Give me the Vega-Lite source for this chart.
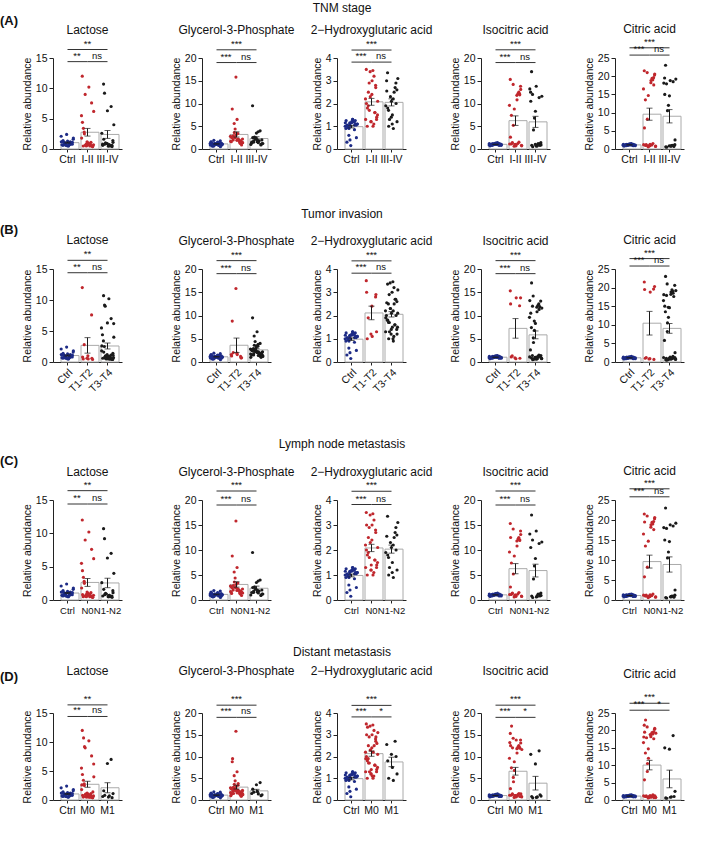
{
"$schema":"https://vega.github.io/schema/vega-lite/v6.json",
"padding":{"left":0,"top":2,"right":2,"bottom":2},
"datasets":{"d":[
{"i":29,"s":"Ctrl","t":"Ctrl","n":"Ctrl","m":"Ctrl","L":0.9,"G":1.2,"H":1.1,"I":1.0,"C":1.1},
{"i":58,"s":"Ctrl","t":"Ctrl","n":"Ctrl","m":"Ctrl","L":1.2,"G":0.9,"H":1.2,"I":1.1,"C":1.2},
{"i":6,"s":"Ctrl","t":"Ctrl","n":"Ctrl","m":"Ctrl","L":0.7,"G":1.5,"H":0.9,"I":0.9,"C":1.0},
{"i":35,"s":"Ctrl","t":"Ctrl","n":"Ctrl","m":"Ctrl","L":2.4,"G":1.0,"H":1.0,"I":1.2,"C":1.3},
{"i":64,"s":"Ctrl","t":"Ctrl","n":"Ctrl","m":"Ctrl","L":1.0,"G":1.8,"H":1.25,"I":0.8,"C":0.9},
{"i":12,"s":"Ctrl","t":"Ctrl","n":"Ctrl","m":"Ctrl","L":0.6,"G":0.7,"H":0.3,"I":1.0,"C":1.1},
{"i":41,"s":"Ctrl","t":"Ctrl","n":"Ctrl","m":"Ctrl","L":1.3,"G":1.1,"H":1.15,"I":1.3,"C":1.4},
{"i":70,"s":"Ctrl","t":"Ctrl","n":"Ctrl","m":"Ctrl","L":0.8,"G":1.3,"H":1.05,"I":0.9,"C":1.0},
{"i":18,"s":"Ctrl","t":"Ctrl","n":"Ctrl","m":"Ctrl","L":1.1,"G":0.6,"H":0.95,"I":1.1,"C":1.2},
{"i":47,"s":"Ctrl","t":"Ctrl","n":"Ctrl","m":"Ctrl","L":0.5,"G":1.4,"H":1.3,"I":1.0,"C":1.1},
{"i":76,"s":"Ctrl","t":"Ctrl","n":"Ctrl","m":"Ctrl","L":1.6,"G":1.0,"H":1.1,"I":0.8,"C":0.9},
{"i":24,"s":"Ctrl","t":"Ctrl","n":"Ctrl","m":"Ctrl","L":0.9,"G":1.9,"H":0.6,"I":1.2,"C":1.3},
{"i":53,"s":"Ctrl","t":"Ctrl","n":"Ctrl","m":"Ctrl","L":0.7,"G":0.8,"H":1.2,"I":1.4,"C":1.5},
{"i":1,"s":"Ctrl","t":"Ctrl","n":"Ctrl","m":"Ctrl","L":2.1,"G":1.2,"H":1.0,"I":0.9,"C":1.0},
{"i":30,"s":"Ctrl","t":"Ctrl","n":"Ctrl","m":"Ctrl","L":1.0,"G":1.1,"H":1.15,"I":1.0,"C":1.1},
{"i":59,"s":"Ctrl","t":"Ctrl","n":"Ctrl","m":"Ctrl","L":0.8,"G":0.9,"H":0.85,"I":1.1,"C":1.2},
{"i":7,"s":"Ctrl","t":"Ctrl","n":"Ctrl","m":"Ctrl","L":1.2,"G":1.6,"H":1.25,"I":0.7,"C":0.8},
{"i":36,"s":"Ctrl","t":"Ctrl","n":"Ctrl","m":"Ctrl","L":0.6,"G":1.0,"H":0.15,"I":1.0,"C":1.1},
{"i":65,"s":"Ctrl","t":"Ctrl","n":"Ctrl","m":"Ctrl","L":0.9,"G":0.5,"H":1.1,"I":1.2,"C":1.3},
{"i":13,"s":"Ctrl","t":"Ctrl","n":"Ctrl","m":"Ctrl","L":1.4,"G":1.3,"H":1.05,"I":0.9,"C":1.0},
{"i":42,"s":"Ctrl","t":"Ctrl","n":"Ctrl","m":"Ctrl","L":0.5,"G":1.2,"H":1.2,"I":1.1,"C":1.2},
{"i":71,"s":"Ctrl","t":"Ctrl","n":"Ctrl","m":"Ctrl","L":1.1,"G":0.8,"H":0.5,"I":1.0,"C":1.1},
{"i":19,"s":"Ctrl","t":"Ctrl","n":"Ctrl","m":"Ctrl","L":0.8,"G":1.0,"H":1.0,"I":0.8,"C":0.9},
{"i":48,"s":"Ctrl","t":"Ctrl","n":"Ctrl","m":"Ctrl","L":1.0,"G":1.5,"H":1.3,"I":1.3,"C":1.4},
{"i":77,"s":"Ctrl","t":"Ctrl","n":"Ctrl","m":"Ctrl","L":1.8,"G":1.1,"H":1.1,"I":1.0,"C":1.1},
{"i":25,"s":"Ctrl","t":"Ctrl","n":"Ctrl","m":"Ctrl","L":0.7,"G":0.7,"H":0.9,"I":0.9,"C":1.0},
{"i":54,"s":"Ctrl","t":"Ctrl","n":"Ctrl","m":"Ctrl","L":0.9,"G":1.3,"H":1.2,"I":1.1,"C":1.2},
{"i":2,"s":"Ctrl","t":"Ctrl","n":"Ctrl","m":"Ctrl","L":1.2,"G":0.9,"H":1.15,"I":1.2,"C":1.3},
{"i":31,"s":"Ctrl","t":"Ctrl","n":"Ctrl","m":"Ctrl","L":0.6,"G":1.2,"H":0.4,"I":1.0,"C":1.1},
{"i":60,"s":"Ctrl","t":"Ctrl","n":"Ctrl","m":"Ctrl","L":1.0,"G":1.0,"H":1.05,"I":0.9,"C":1.0},
{"i":8,"s":"I-II","t":"T1-T2","n":"N0","m":"M0","L":12.0,"G":1.6,"H":3.5,"I":15.3,"C":21.5},
{"i":37,"s":"I-II","t":"T1-T2","n":"N0","m":"M0","L":0.6,"G":15.8,"H":1.2,"I":0.9,"C":0.8},
{"i":66,"s":"I-II","t":"T1-T2","n":"N0","m":"M0","L":7.6,"G":1.2,"H":2.8,"I":12.1,"C":19.6},
{"i":14,"s":"I-II","t":"T1-T2","n":"N0","m":"M0","L":0.5,"G":8.8,"H":1.0,"I":1.1,"C":1.0},
{"i":43,"s":"I-II","t":"T1-T2","n":"N0","m":"M0","L":1.0,"G":1.9,"H":2.4,"I":0.7,"C":0.9},
{"i":72,"s":"I-II","t":"T1-T2","n":"N0","m":"M0","L":0.4,"G":0.9,"H":1.3,"I":13.8,"C":20.3},
{"i":20,"s":"I-II","t":"T1-T2","n":"N0","m":"M0","L":2.8,"G":2.0,"H":1.9,"I":1.3,"C":1.2},
{"i":49,"s":"I-II","t":"T3-T4","n":"N0","m":"M0","L":10.2,"G":3.4,"H":3.45,"I":11.8,"C":18.2},
{"i":78,"s":"I-II","t":"T3-T4","n":"N0","m":"M0","L":0.7,"G":2.2,"H":1.5,"I":0.8,"C":0.7},
{"i":26,"s":"I-II","t":"T3-T4","n":"N0","m":"M0","L":9.0,"G":5.6,"H":2.9,"I":14.2,"C":21.0},
{"i":55,"s":"I-II","t":"T3-T4","n":"N0","m":"M0","L":0.5,"G":1.9,"H":1.1,"I":1.2,"C":1.1},
{"i":3,"s":"I-II","t":"T3-T4","n":"N0","m":"M0","L":5.5,"G":2.8,"H":2.2,"I":9.6,"C":16.5},
{"i":32,"s":"I-II","t":"T3-T4","n":"N0","m":"M0","L":0.8,"G":4.4,"H":3.4,"I":0.6,"C":0.6},
{"i":61,"s":"I-II","t":"T3-T4","n":"N0","m":"M0","L":0.6,"G":1.5,"H":1.6,"I":12.5,"C":19.0},
{"i":9,"s":"I-II","t":"T3-T4","n":"N0","m":"M0","L":4.4,"G":2.6,"H":2.0,"I":2.6,"C":5.8},
{"i":38,"s":"I-II","t":"T3-T4","n":"N0","m":"M0","L":1.2,"G":3.1,"H":1.2,"I":1.0,"C":0.9},
{"i":67,"s":"I-II","t":"T3-T4","n":"N0","m":"M0","L":0.5,"G":1.8,"H":2.7,"I":11.9,"C":17.6},
{"i":15,"s":"I-II","t":"T3-T4","n":"N0","m":"M0","L":3.4,"G":2.4,"H":1.8,"I":7.4,"C":13.5},
{"i":44,"s":"I-II","t":"T3-T4","n":"N0","m":"M0","L":0.9,"G":6.5,"H":3.0,"I":0.9,"C":1.3},
{"i":73,"s":"I-II","t":"T3-T4","n":"N0","m":"M0","L":0.4,"G":1.6,"H":1.4,"I":13.1,"C":20.6},
{"i":21,"s":"I-II","t":"T3-T4","n":"N0","m":"M0","L":2.5,"G":2.9,"H":2.5,"I":1.4,"C":1.0},
{"i":50,"s":"I-II","t":"T3-T4","n":"N0","m":"M0","L":0.7,"G":2.2,"H":1.0,"I":10.8,"C":18.8},
{"i":79,"s":"I-II","t":"T3-T4","n":"N0","m":"M0","L":6.2,"G":1.4,"H":2.1,"I":0.7,"C":0.8},
{"i":27,"s":"I-II","t":"T3-T4","n":"N0","m":"M0","L":0.6,"G":3.6,"H":1.7,"I":5.2,"C":8.2},
{"i":56,"s":"I-II","t":"T3-T4","n":"N0","m":"M0","L":0.9,"G":2.0,"H":3.2,"I":12.2,"C":19.4},
{"i":4,"s":"I-II","t":"T3-T4","n":"N0","m":"M0","L":1.8,"G":1.7,"H":1.3,"I":1.1,"C":1.2},
{"i":33,"s":"I-II","t":"T3-T4","n":"N0","m":"M0","L":0.5,"G":2.5,"H":2.3,"I":8.8,"C":14.7},
{"i":62,"s":"I-II","t":"T3-T4","n":"N0","m":"M0","L":1.1,"G":1.3,"H":1.6,"I":1.5,"C":1.5},
{"i":10,"s":"III-IV","t":"T1-T2","n":"N0","m":"M0","L":0.8,"G":1.3,"H":3.0,"I":12.5,"C":19.5},
{"i":39,"s":"III-IV","t":"T3-T4","n":"N0","m":"M0","L":0.9,"G":2.4,"H":1.4,"I":1.0,"C":0.9},
{"i":68,"s":"III-IV","t":"T1-T2","n":"N1-N2","m":"M0","L":0.6,"G":0.9,"H":2.9,"I":0.8,"C":0.7},
{"i":16,"s":"III-IV","t":"T3-T4","n":"N1-N2","m":"M0","L":10.7,"G":9.5,"H":3.35,"I":17.0,"C":23.0},
{"i":45,"s":"III-IV","t":"T1-T2","n":"N1-N2","m":"M0","L":0.5,"G":1.6,"H":1.1,"I":13.8,"C":18.8},
{"i":74,"s":"III-IV","t":"T3-T4","n":"N1-N2","m":"M0","L":1.4,"G":2.0,"H":2.6,"I":1.4,"C":1.2},
{"i":22,"s":"III-IV","t":"T3-T4","n":"N1-N2","m":"M0","L":9.2,"G":1.5,"H":1.7,"I":12.0,"C":17.9},
{"i":51,"s":"III-IV","t":"T3-T4","n":"N1-N2","m":"M0","L":0.7,"G":3.8,"H":2.2,"I":0.9,"C":0.8},
{"i":80,"s":"III-IV","t":"T3-T4","n":"N1-N2","m":"M0","L":4.0,"G":1.2,"H":3.1,"I":11.6,"C":19.2},
{"i":28,"s":"III-IV","t":"T3-T4","n":"N1-N2","m":"M0","L":1.0,"G":2.6,"H":1.3,"I":4.2,"C":10.5},
{"i":57,"s":"III-IV","t":"T3-T4","n":"N1-N2","m":"M0","L":0.5,"G":1.8,"H":2.5,"I":1.2,"C":1.0},
{"i":5,"s":"III-IV","t":"T3-T4","n":"N1-N2","m":"M0","L":2.6,"G":1.0,"H":1.9,"I":13.2,"C":18.1},
{"i":34,"s":"III-IV","t":"T3-T4","n":"N1-N2","m":"M0","L":0.9,"G":2.2,"H":2.3,"I":6.8,"C":12.0},
{"i":63,"s":"III-IV","t":"T3-T4","n":"N1-N2","m":"M1","L":7.0,"G":4.0,"H":2.7,"I":11.3,"C":18.5},
{"i":11,"s":"III-IV","t":"T3-T4","n":"N1-N2","m":"M1","L":0.6,"G":1.5,"H":2.55,"I":10.5,"C":15.0},
{"i":40,"s":"III-IV","t":"T3-T4","n":"N1-N2","m":"M1","L":6.3,"G":3.5,"H":2.1,"I":8.3,"C":14.6},
{"i":69,"s":"III-IV","t":"T3-T4","n":"N1-N2","m":"M1","L":0.4,"G":1.0,"H":2.0,"I":1.2,"C":1.0},
{"i":17,"s":"III-IV","t":"T3-T4","n":"N1-N2","m":"M1","L":1.6,"G":2.5,"H":1.8,"I":0.8,"C":0.6},
{"i":46,"s":"III-IV","t":"T3-T4","n":"N1-N2","m":"M1","L":0.5,"G":2.0,"H":1.5,"I":0.6,"C":0.8},
{"i":75,"s":"III-IV","t":"T3-T4","n":"N1-N2","m":"M1","L":1.1,"G":1.2,"H":1.2,"I":0.9,"C":2.5},
{"i":23,"s":"III-IV","t":"T3-T4","n":"N1-N2","m":"M1","L":0.8,"G":1.8,"H":1.0,"I":0.5,"C":0.5},
{"i":52,"s":"III-IV","t":"T3-T4","n":"N1-N2","m":"M1","L":0.7,"G":1.4,"H":0.9,"I":0.7,"C":0.9}
]},
"spacing":43,
"resolve":{"scale":{"xOffset":"independent"}},
"vconcat":[
{"title":{"text":"TNM stage","offset":0,"anchor":"middle"},"spacing":34,"resolve":{"scale":{"xOffset":"independent"}},"hconcat":[
 {"spacing":17,"resolve":{"scale":{"xOffset":"independent"}},"hconcat":[
  {"spacing":15,"resolve":{"scale":{"xOffset":"independent"}},"hconcat":[
   {"spacing":49,"resolve":{"scale":{"xOffset":"independent"}},"hconcat":[
    {"spacing":3,"resolve":{"scale":{"xOffset":"independent"}},"hconcat":[
     {"width":1,"height":91,"title":{"text":"(A)","anchor":"start","offset":30,"fontWeight":"bold","fontSize":13},"data":{"values":[]},"mark":"text","encoding":{}},
     {"title":{"text":"Lactose","offset":2},"width":69,"height":91,"data":{"name":"d"},
      "encoding":{"x":{"field":"s","type":"nominal","title":null,"scale":{"domain":["Ctrl","I-II","III-IV"]}}},
      "layer":[
       {"mark":{"type":"bar","fill":"#fff","stroke":"#aaa"},"encoding":{"y":{"aggregate":"mean","field":"L","type":"quantitative","title":"Relative abundance","scale":{"domain":[0,15],"nice":false},"axis":{"values":[0,5,10,15],"labelOverlap":false}}}},
       {"mark":"circle","encoding":{"y":{"field":"L","type":"quantitative","title":"Relative abundance","axis":{"values":[0,5,10,15],"labelOverlap":false}},"xOffset":{"field":"i","type":"ordinal","scale":{"paddingOuter":30}},"color":{"condition":[{"test":"datum.s=='Ctrl'","value":"#1d2b86"},{"test":"datum.s=='I-II'","value":"#c0272d"}],"value":"#1a1a1a"}}},
       {"mark":{"type":"errorbar","extent":"stderr","ticks":{"size":6},"color":"#1a1a1a"},"encoding":{"y":{"field":"L","type":"quantitative","title":"Relative abundance","axis":{"values":[0,5,10,15],"labelOverlap":false}}}},
       {"data":{"values":[{"a":"Ctrl","b":"III-IV","y":16.4,"t":"**","c":"I-II","k":1},{"a":"Ctrl","b":"I-II","y":14.4,"t":"**","c":"Ctrl","k":0},{"a":"I-II","b":"III-IV","y":14.4,"t":"ns","c":"I-II","k":0}]},
        "encoding":{"y":{"field":"y","type":"quantitative","title":"Relative abundance","axis":{"values":[0,5,10,15],"labelOverlap":false}}},
        "layer":[
         {"mark":"rule","encoding":{"x":{"field":"a","type":"nominal","title":null},"x2":{"field":"b"}}},
         {"transform":[{"filter":"datum.k==1"}],"mark":{"type":"text","baseline":"bottom","dy":-1},"encoding":{"x":{"field":"c","type":"nominal","title":null},"text":{"field":"t"}}},
         {"transform":[{"filter":"datum.k==0"}],"mark":{"type":"text","baseline":"bottom","dy":-1,"dx":3},"encoding":{"x":{"field":"c","type":"nominal","title":null,"bandPosition":1},"text":{"field":"t"}}}
        ]}
      ]}
    ]},
    {"title":{"text":"Glycerol-3-Phosphate","offset":2},"width":69,"height":91,"data":{"name":"d"},
     "encoding":{"x":{"field":"s","type":"nominal","title":null,"scale":{"domain":["Ctrl","I-II","III-IV"]}}},
     "layer":[
      {"mark":{"type":"bar","fill":"#fff","stroke":"#aaa"},"encoding":{"y":{"aggregate":"mean","field":"G","type":"quantitative","title":"Relative abundance","scale":{"domain":[0,20],"nice":false},"axis":{"values":[0,5,10,15,20],"labelOverlap":false}}}},
      {"mark":"circle","encoding":{"y":{"field":"G","type":"quantitative","title":"Relative abundance","axis":{"values":[0,5,10,15,20],"labelOverlap":false}},"xOffset":{"field":"i","type":"ordinal","scale":{"paddingOuter":30}},"color":{"condition":[{"test":"datum.s=='Ctrl'","value":"#1d2b86"},{"test":"datum.s=='I-II'","value":"#c0272d"}],"value":"#1a1a1a"}}},
      {"mark":{"type":"errorbar","extent":"stderr","ticks":{"size":6},"color":"#1a1a1a"},"encoding":{"y":{"field":"G","type":"quantitative","title":"Relative abundance","axis":{"values":[0,5,10,15,20],"labelOverlap":false}}}},
      {"data":{"values":[{"a":"Ctrl","b":"III-IV","y":21.8,"t":"***","c":"I-II","k":1},{"a":"Ctrl","b":"I-II","y":19.0,"t":"***","c":"Ctrl","k":0},{"a":"I-II","b":"III-IV","y":19.0,"t":"ns","c":"I-II","k":0}]},
       "encoding":{"y":{"field":"y","type":"quantitative","title":"Relative abundance","axis":{"values":[0,5,10,15,20],"labelOverlap":false}}},
       "layer":[
        {"mark":"rule","encoding":{"x":{"field":"a","type":"nominal","title":null},"x2":{"field":"b"}}},
        {"transform":[{"filter":"datum.k==1"}],"mark":{"type":"text","baseline":"bottom","dy":-1},"encoding":{"x":{"field":"c","type":"nominal","title":null},"text":{"field":"t"}}},
        {"transform":[{"filter":"datum.k==0"}],"mark":{"type":"text","baseline":"bottom","dy":-1,"dx":3},"encoding":{"x":{"field":"c","type":"nominal","title":null,"bandPosition":1},"text":{"field":"t"}}}
       ]}
     ]}
   ]},
   {"title":{"text":"2−Hydroxyglutaric acid","offset":2},"width":69,"height":91,"data":{"name":"d"},
    "encoding":{"x":{"field":"s","type":"nominal","title":null,"scale":{"domain":["Ctrl","I-II","III-IV"]}}},
    "layer":[
     {"mark":{"type":"bar","fill":"#fff","stroke":"#aaa"},"encoding":{"y":{"aggregate":"mean","field":"H","type":"quantitative","title":"Relative abundance","scale":{"domain":[0,4],"nice":false},"axis":{"values":[0,1,2,3,4],"labelOverlap":false}}}},
     {"mark":"circle","encoding":{"y":{"field":"H","type":"quantitative","title":"Relative abundance","axis":{"values":[0,1,2,3,4],"labelOverlap":false}},"xOffset":{"field":"i","type":"ordinal","scale":{"paddingOuter":30}},"color":{"condition":[{"test":"datum.s=='Ctrl'","value":"#1d2b86"},{"test":"datum.s=='I-II'","value":"#c0272d"}],"value":"#1a1a1a"}}},
     {"mark":{"type":"errorbar","extent":"stderr","ticks":{"size":6},"color":"#1a1a1a"},"encoding":{"y":{"field":"H","type":"quantitative","title":"Relative abundance","axis":{"values":[0,1,2,3,4],"labelOverlap":false}}}},
     {"data":{"values":[{"a":"Ctrl","b":"III-IV","y":4.35,"t":"***","c":"I-II","k":1},{"a":"Ctrl","b":"I-II","y":3.82,"t":"***","c":"Ctrl","k":0},{"a":"I-II","b":"III-IV","y":3.82,"t":"ns","c":"I-II","k":0}]},
      "encoding":{"y":{"field":"y","type":"quantitative","title":"Relative abundance","axis":{"values":[0,1,2,3,4],"labelOverlap":false}}},
      "layer":[
       {"mark":"rule","encoding":{"x":{"field":"a","type":"nominal","title":null},"x2":{"field":"b"}}},
       {"transform":[{"filter":"datum.k==1"}],"mark":{"type":"text","baseline":"bottom","dy":-1},"encoding":{"x":{"field":"c","type":"nominal","title":null},"text":{"field":"t"}}},
       {"transform":[{"filter":"datum.k==0"}],"mark":{"type":"text","baseline":"bottom","dy":-1,"dx":3},"encoding":{"x":{"field":"c","type":"nominal","title":null,"bandPosition":1},"text":{"field":"t"}}}
      ]}
    ]}
  ]},
  {"title":{"text":"Isocitric acid","offset":2},"width":69,"height":91,"data":{"name":"d"},
   "encoding":{"x":{"field":"s","type":"nominal","title":null,"scale":{"domain":["Ctrl","I-II","III-IV"]}}},
   "layer":[
    {"mark":{"type":"bar","fill":"#fff","stroke":"#aaa"},"encoding":{"y":{"aggregate":"mean","field":"I","type":"quantitative","title":"Relative abundance","scale":{"domain":[0,20],"nice":false},"axis":{"values":[0,5,10,15,20],"labelOverlap":false}}}},
    {"mark":"circle","encoding":{"y":{"field":"I","type":"quantitative","title":"Relative abundance","axis":{"values":[0,5,10,15,20],"labelOverlap":false}},"xOffset":{"field":"i","type":"ordinal","scale":{"paddingOuter":30}},"color":{"condition":[{"test":"datum.s=='Ctrl'","value":"#1d2b86"},{"test":"datum.s=='I-II'","value":"#c0272d"}],"value":"#1a1a1a"}}},
    {"mark":{"type":"errorbar","extent":"stderr","ticks":{"size":6},"color":"#1a1a1a"},"encoding":{"y":{"field":"I","type":"quantitative","title":"Relative abundance","axis":{"values":[0,5,10,15,20],"labelOverlap":false}}}},
    {"data":{"values":[{"a":"Ctrl","b":"III-IV","y":21.8,"t":"***","c":"I-II","k":1},{"a":"Ctrl","b":"I-II","y":19.0,"t":"***","c":"Ctrl","k":0},{"a":"I-II","b":"III-IV","y":19.0,"t":"ns","c":"I-II","k":0}]},
     "encoding":{"y":{"field":"y","type":"quantitative","title":"Relative abundance","axis":{"values":[0,5,10,15,20],"labelOverlap":false}}},
     "layer":[
      {"mark":"rule","encoding":{"x":{"field":"a","type":"nominal","title":null},"x2":{"field":"b"}}},
      {"transform":[{"filter":"datum.k==1"}],"mark":{"type":"text","baseline":"bottom","dy":-1},"encoding":{"x":{"field":"c","type":"nominal","title":null},"text":{"field":"t"}}},
      {"transform":[{"filter":"datum.k==0"}],"mark":{"type":"text","baseline":"bottom","dy":-1,"dx":3},"encoding":{"x":{"field":"c","type":"nominal","title":null,"bandPosition":1},"text":{"field":"t"}}}
     ]}
   ]}
 ]},
 {"title":{"text":"Citric acid","offset":1},"width":69,"height":91,"data":{"name":"d"},
  "encoding":{"x":{"field":"s","type":"nominal","title":null,"scale":{"domain":["Ctrl","I-II","III-IV"]}}},
  "layer":[
   {"mark":{"type":"bar","fill":"#fff","stroke":"#aaa"},"encoding":{"y":{"aggregate":"mean","field":"C","type":"quantitative","title":"Relative abundance","scale":{"domain":[0,25],"nice":false},"axis":{"values":[0,5,10,15,20,25],"labelOverlap":false}}}},
   {"mark":"circle","encoding":{"y":{"field":"C","type":"quantitative","title":"Relative abundance","axis":{"values":[0,5,10,15,20,25],"labelOverlap":false}},"xOffset":{"field":"i","type":"ordinal","scale":{"paddingOuter":30}},"color":{"condition":[{"test":"datum.s=='Ctrl'","value":"#1d2b86"},{"test":"datum.s=='I-II'","value":"#c0272d"}],"value":"#1a1a1a"}}},
   {"mark":{"type":"errorbar","extent":"stderr","ticks":{"size":6},"color":"#1a1a1a"},"encoding":{"y":{"field":"C","type":"quantitative","title":"Relative abundance","axis":{"values":[0,5,10,15,20,25],"labelOverlap":false}}}},
   {"data":{"values":[{"a":"Ctrl","b":"III-IV","y":27.8,"t":"***","c":"I-II","k":1},{"a":"Ctrl","b":"I-II","y":25.8,"t":"***","c":"Ctrl","k":0},{"a":"I-II","b":"III-IV","y":25.8,"t":"ns","c":"I-II","k":0}]},
    "encoding":{"y":{"field":"y","type":"quantitative","title":"Relative abundance","axis":{"values":[0,5,10,15,20,25],"labelOverlap":false}}},
    "layer":[
     {"mark":"rule","encoding":{"x":{"field":"a","type":"nominal","title":null},"x2":{"field":"b"}}},
     {"transform":[{"filter":"datum.k==1"}],"mark":{"type":"text","baseline":"bottom","dy":-1},"encoding":{"x":{"field":"c","type":"nominal","title":null},"text":{"field":"t"}}},
     {"transform":[{"filter":"datum.k==0"}],"mark":{"type":"text","baseline":"bottom","dy":-1,"dx":3},"encoding":{"x":{"field":"c","type":"nominal","title":null,"bandPosition":1},"text":{"field":"t"}}}
    ]}
  ]}
]},
{"title":{"text":"Tumor invasion","offset":3,"anchor":"middle"},"spacing":34,"resolve":{"scale":{"xOffset":"independent"}},"hconcat":[
 {"spacing":17,"resolve":{"scale":{"xOffset":"independent"}},"hconcat":[
  {"spacing":15,"resolve":{"scale":{"xOffset":"independent"}},"hconcat":[
   {"spacing":49,"resolve":{"scale":{"xOffset":"independent"}},"hconcat":[
    {"spacing":3,"resolve":{"scale":{"xOffset":"independent"}},"hconcat":[
     {"width":1,"height":93,"title":{"text":"(B)","anchor":"start","offset":32,"fontWeight":"bold","fontSize":13},"data":{"values":[]},"mark":"text","encoding":{}},
     {"title":{"text":"Lactose","offset":2},"width":69,"height":93,"data":{"name":"d"},
      "encoding":{"x":{"field":"t","type":"nominal","title":null,"scale":{"domain":["Ctrl","T1-T2","T3-T4"]},"axis":{"labelAngle":-45}}},
      "layer":[
       {"mark":{"type":"bar","fill":"#fff","stroke":"#aaa"},"encoding":{"y":{"aggregate":"mean","field":"L","type":"quantitative","title":"Relative abundance","scale":{"domain":[0,15],"nice":false},"axis":{"values":[0,5,10,15],"labelOverlap":false}}}},
       {"mark":"circle","encoding":{"y":{"field":"L","type":"quantitative","title":"Relative abundance","axis":{"values":[0,5,10,15],"labelOverlap":false}},"xOffset":{"field":"i","type":"ordinal","scale":{"paddingOuter":30}},"color":{"condition":[{"test":"datum.t=='Ctrl'","value":"#1d2b86"},{"test":"datum.t=='T1-T2'","value":"#c0272d"}],"value":"#1a1a1a"}}},
       {"mark":{"type":"errorbar","extent":"stderr","ticks":{"size":6},"color":"#1a1a1a"},"encoding":{"y":{"field":"L","type":"quantitative","title":"Relative abundance","axis":{"values":[0,5,10,15],"labelOverlap":false}}}},
       {"data":{"values":[{"a":"Ctrl","b":"T3-T4","y":16.4,"t":"**","c":"T1-T2","k":1},{"a":"Ctrl","b":"T1-T2","y":14.4,"t":"**","c":"Ctrl","k":0},{"a":"T1-T2","b":"T3-T4","y":14.4,"t":"ns","c":"T1-T2","k":0}]},
        "encoding":{"y":{"field":"y","type":"quantitative","title":"Relative abundance","axis":{"values":[0,5,10,15],"labelOverlap":false}}},
        "layer":[
         {"mark":"rule","encoding":{"x":{"field":"a","type":"nominal","title":null},"x2":{"field":"b"}}},
         {"transform":[{"filter":"datum.k==1"}],"mark":{"type":"text","baseline":"bottom","dy":-1},"encoding":{"x":{"field":"c","type":"nominal","title":null},"text":{"field":"t"}}},
         {"transform":[{"filter":"datum.k==0"}],"mark":{"type":"text","baseline":"bottom","dy":-1,"dx":3},"encoding":{"x":{"field":"c","type":"nominal","title":null,"bandPosition":1},"text":{"field":"t"}}}
        ]}
      ]}
    ]},
    {"title":{"text":"Glycerol-3-Phosphate","offset":2},"width":69,"height":93,"data":{"name":"d"},
     "encoding":{"x":{"field":"t","type":"nominal","title":null,"scale":{"domain":["Ctrl","T1-T2","T3-T4"]},"axis":{"labelAngle":-45}}},
     "layer":[
      {"mark":{"type":"bar","fill":"#fff","stroke":"#aaa"},"encoding":{"y":{"aggregate":"mean","field":"G","type":"quantitative","title":"Relative abundance","scale":{"domain":[0,20],"nice":false},"axis":{"values":[0,5,10,15,20],"labelOverlap":false}}}},
      {"mark":"circle","encoding":{"y":{"field":"G","type":"quantitative","title":"Relative abundance","axis":{"values":[0,5,10,15,20],"labelOverlap":false}},"xOffset":{"field":"i","type":"ordinal","scale":{"paddingOuter":30}},"color":{"condition":[{"test":"datum.t=='Ctrl'","value":"#1d2b86"},{"test":"datum.t=='T1-T2'","value":"#c0272d"}],"value":"#1a1a1a"}}},
      {"mark":{"type":"errorbar","extent":"stderr","ticks":{"size":6},"color":"#1a1a1a"},"encoding":{"y":{"field":"G","type":"quantitative","title":"Relative abundance","axis":{"values":[0,5,10,15,20],"labelOverlap":false}}}},
      {"data":{"values":[{"a":"Ctrl","b":"T3-T4","y":21.8,"t":"***","c":"T1-T2","k":1},{"a":"Ctrl","b":"T1-T2","y":19.0,"t":"***","c":"Ctrl","k":0},{"a":"T1-T2","b":"T3-T4","y":19.0,"t":"ns","c":"T1-T2","k":0}]},
       "encoding":{"y":{"field":"y","type":"quantitative","title":"Relative abundance","axis":{"values":[0,5,10,15,20],"labelOverlap":false}}},
       "layer":[
        {"mark":"rule","encoding":{"x":{"field":"a","type":"nominal","title":null},"x2":{"field":"b"}}},
        {"transform":[{"filter":"datum.k==1"}],"mark":{"type":"text","baseline":"bottom","dy":-1},"encoding":{"x":{"field":"c","type":"nominal","title":null},"text":{"field":"t"}}},
        {"transform":[{"filter":"datum.k==0"}],"mark":{"type":"text","baseline":"bottom","dy":-1,"dx":3},"encoding":{"x":{"field":"c","type":"nominal","title":null,"bandPosition":1},"text":{"field":"t"}}}
       ]}
     ]}
   ]},
   {"title":{"text":"2−Hydroxyglutaric acid","offset":2},"width":69,"height":93,"data":{"name":"d"},
    "encoding":{"x":{"field":"t","type":"nominal","title":null,"scale":{"domain":["Ctrl","T1-T2","T3-T4"]},"axis":{"labelAngle":-45}}},
    "layer":[
     {"mark":{"type":"bar","fill":"#fff","stroke":"#aaa"},"encoding":{"y":{"aggregate":"mean","field":"H","type":"quantitative","title":"Relative abundance","scale":{"domain":[0,4],"nice":false},"axis":{"values":[0,1,2,3,4],"labelOverlap":false}}}},
     {"mark":"circle","encoding":{"y":{"field":"H","type":"quantitative","title":"Relative abundance","axis":{"values":[0,1,2,3,4],"labelOverlap":false}},"xOffset":{"field":"i","type":"ordinal","scale":{"paddingOuter":30}},"color":{"condition":[{"test":"datum.t=='Ctrl'","value":"#1d2b86"},{"test":"datum.t=='T1-T2'","value":"#c0272d"}],"value":"#1a1a1a"}}},
     {"mark":{"type":"errorbar","extent":"stderr","ticks":{"size":6},"color":"#1a1a1a"},"encoding":{"y":{"field":"H","type":"quantitative","title":"Relative abundance","axis":{"values":[0,1,2,3,4],"labelOverlap":false}}}},
     {"data":{"values":[{"a":"Ctrl","b":"T3-T4","y":4.35,"t":"***","c":"T1-T2","k":1},{"a":"Ctrl","b":"T1-T2","y":3.82,"t":"***","c":"Ctrl","k":0},{"a":"T1-T2","b":"T3-T4","y":3.82,"t":"ns","c":"T1-T2","k":0}]},
      "encoding":{"y":{"field":"y","type":"quantitative","title":"Relative abundance","axis":{"values":[0,1,2,3,4],"labelOverlap":false}}},
      "layer":[
       {"mark":"rule","encoding":{"x":{"field":"a","type":"nominal","title":null},"x2":{"field":"b"}}},
       {"transform":[{"filter":"datum.k==1"}],"mark":{"type":"text","baseline":"bottom","dy":-1},"encoding":{"x":{"field":"c","type":"nominal","title":null},"text":{"field":"t"}}},
       {"transform":[{"filter":"datum.k==0"}],"mark":{"type":"text","baseline":"bottom","dy":-1,"dx":3},"encoding":{"x":{"field":"c","type":"nominal","title":null,"bandPosition":1},"text":{"field":"t"}}}
      ]}
    ]}
  ]},
  {"title":{"text":"Isocitric acid","offset":2},"width":69,"height":93,"data":{"name":"d"},
   "encoding":{"x":{"field":"t","type":"nominal","title":null,"scale":{"domain":["Ctrl","T1-T2","T3-T4"]},"axis":{"labelAngle":-45}}},
   "layer":[
    {"mark":{"type":"bar","fill":"#fff","stroke":"#aaa"},"encoding":{"y":{"aggregate":"mean","field":"I","type":"quantitative","title":"Relative abundance","scale":{"domain":[0,20],"nice":false},"axis":{"values":[0,5,10,15,20],"labelOverlap":false}}}},
    {"mark":"circle","encoding":{"y":{"field":"I","type":"quantitative","title":"Relative abundance","axis":{"values":[0,5,10,15,20],"labelOverlap":false}},"xOffset":{"field":"i","type":"ordinal","scale":{"paddingOuter":30}},"color":{"condition":[{"test":"datum.t=='Ctrl'","value":"#1d2b86"},{"test":"datum.t=='T1-T2'","value":"#c0272d"}],"value":"#1a1a1a"}}},
    {"mark":{"type":"errorbar","extent":"stderr","ticks":{"size":6},"color":"#1a1a1a"},"encoding":{"y":{"field":"I","type":"quantitative","title":"Relative abundance","axis":{"values":[0,5,10,15,20],"labelOverlap":false}}}},
    {"data":{"values":[{"a":"Ctrl","b":"T3-T4","y":21.8,"t":"***","c":"T1-T2","k":1},{"a":"Ctrl","b":"T1-T2","y":19.0,"t":"***","c":"Ctrl","k":0},{"a":"T1-T2","b":"T3-T4","y":19.0,"t":"ns","c":"T1-T2","k":0}]},
     "encoding":{"y":{"field":"y","type":"quantitative","title":"Relative abundance","axis":{"values":[0,5,10,15,20],"labelOverlap":false}}},
     "layer":[
      {"mark":"rule","encoding":{"x":{"field":"a","type":"nominal","title":null},"x2":{"field":"b"}}},
      {"transform":[{"filter":"datum.k==1"}],"mark":{"type":"text","baseline":"bottom","dy":-1},"encoding":{"x":{"field":"c","type":"nominal","title":null},"text":{"field":"t"}}},
      {"transform":[{"filter":"datum.k==0"}],"mark":{"type":"text","baseline":"bottom","dy":-1,"dx":3},"encoding":{"x":{"field":"c","type":"nominal","title":null,"bandPosition":1},"text":{"field":"t"}}}
     ]}
   ]}
 ]},
 {"title":{"text":"Citric acid","offset":1},"width":69,"height":93,"data":{"name":"d"},
  "encoding":{"x":{"field":"t","type":"nominal","title":null,"scale":{"domain":["Ctrl","T1-T2","T3-T4"]},"axis":{"labelAngle":-45}}},
  "layer":[
   {"mark":{"type":"bar","fill":"#fff","stroke":"#aaa"},"encoding":{"y":{"aggregate":"mean","field":"C","type":"quantitative","title":"Relative abundance","scale":{"domain":[0,25],"nice":false},"axis":{"values":[0,5,10,15,20,25],"labelOverlap":false}}}},
   {"mark":"circle","encoding":{"y":{"field":"C","type":"quantitative","title":"Relative abundance","axis":{"values":[0,5,10,15,20,25],"labelOverlap":false}},"xOffset":{"field":"i","type":"ordinal","scale":{"paddingOuter":30}},"color":{"condition":[{"test":"datum.t=='Ctrl'","value":"#1d2b86"},{"test":"datum.t=='T1-T2'","value":"#c0272d"}],"value":"#1a1a1a"}}},
   {"mark":{"type":"errorbar","extent":"stderr","ticks":{"size":6},"color":"#1a1a1a"},"encoding":{"y":{"field":"C","type":"quantitative","title":"Relative abundance","axis":{"values":[0,5,10,15,20,25],"labelOverlap":false}}}},
   {"data":{"values":[{"a":"Ctrl","b":"T3-T4","y":27.8,"t":"***","c":"T1-T2","k":1},{"a":"Ctrl","b":"T1-T2","y":25.8,"t":"***","c":"Ctrl","k":0},{"a":"T1-T2","b":"T3-T4","y":25.8,"t":"ns","c":"T1-T2","k":0}]},
    "encoding":{"y":{"field":"y","type":"quantitative","title":"Relative abundance","axis":{"values":[0,5,10,15,20,25],"labelOverlap":false}}},
    "layer":[
     {"mark":"rule","encoding":{"x":{"field":"a","type":"nominal","title":null},"x2":{"field":"b"}}},
     {"transform":[{"filter":"datum.k==1"}],"mark":{"type":"text","baseline":"bottom","dy":-1},"encoding":{"x":{"field":"c","type":"nominal","title":null},"text":{"field":"t"}}},
     {"transform":[{"filter":"datum.k==0"}],"mark":{"type":"text","baseline":"bottom","dy":-1,"dx":3},"encoding":{"x":{"field":"c","type":"nominal","title":null,"bandPosition":1},"text":{"field":"t"}}}
    ]}
  ]}
]},
{"spacing":30,"resolve":{"scale":{"xOffset":"independent"}},"vconcat":[
{"title":{"text":"Lymph node metastasis","offset":4,"anchor":"middle"},"spacing":34,"resolve":{"scale":{"xOffset":"independent"}},"hconcat":[
 {"spacing":17,"resolve":{"scale":{"xOffset":"independent"}},"hconcat":[
  {"spacing":15,"resolve":{"scale":{"xOffset":"independent"}},"hconcat":[
   {"spacing":49,"resolve":{"scale":{"xOffset":"independent"}},"hconcat":[
    {"spacing":3,"resolve":{"scale":{"xOffset":"independent"}},"hconcat":[
     {"width":1,"height":100,"title":{"text":"(C)","anchor":"start","offset":32,"fontWeight":"bold","fontSize":13},"data":{"values":[]},"mark":"text","encoding":{}},
     {"title":{"text":"Lactose","offset":1},"width":69,"height":100,"data":{"name":"d"},
      "encoding":{"x":{"field":"n","type":"nominal","title":null,"scale":{"domain":["Ctrl","N0","N1-N2"]},"axis":{"labelFontSize":9.5}}},
      "layer":[
       {"mark":{"type":"bar","fill":"#fff","stroke":"#aaa"},"encoding":{"y":{"aggregate":"mean","field":"L","type":"quantitative","title":"Relative abundance","scale":{"domain":[0,15],"nice":false},"axis":{"values":[0,5,10,15],"labelOverlap":false}}}},
       {"mark":"circle","encoding":{"y":{"field":"L","type":"quantitative","title":"Relative abundance","axis":{"values":[0,5,10,15],"labelOverlap":false}},"xOffset":{"field":"i","type":"ordinal","scale":{"paddingOuter":30}},"color":{"condition":[{"test":"datum.n=='Ctrl'","value":"#1d2b86"},{"test":"datum.n=='N0'","value":"#c0272d"}],"value":"#1a1a1a"}}},
       {"mark":{"type":"errorbar","extent":"stderr","ticks":{"size":6},"color":"#1a1a1a"},"encoding":{"y":{"field":"L","type":"quantitative","title":"Relative abundance","axis":{"values":[0,5,10,15],"labelOverlap":false}}}},
       {"data":{"values":[{"a":"Ctrl","b":"N1-N2","y":16.4,"t":"**","c":"N0","k":1},{"a":"Ctrl","b":"N0","y":14.4,"t":"**","c":"Ctrl","k":0},{"a":"N0","b":"N1-N2","y":14.4,"t":"ns","c":"N0","k":0}]},
        "encoding":{"y":{"field":"y","type":"quantitative","title":"Relative abundance","axis":{"values":[0,5,10,15],"labelOverlap":false}}},
        "layer":[
         {"mark":"rule","encoding":{"x":{"field":"a","type":"nominal","title":null},"x2":{"field":"b"}}},
         {"transform":[{"filter":"datum.k==1"}],"mark":{"type":"text","baseline":"bottom","dy":-1},"encoding":{"x":{"field":"c","type":"nominal","title":null},"text":{"field":"t"}}},
         {"transform":[{"filter":"datum.k==0"}],"mark":{"type":"text","baseline":"bottom","dy":-1,"dx":3},"encoding":{"x":{"field":"c","type":"nominal","title":null,"bandPosition":1},"text":{"field":"t"}}}
        ]}
      ]}
    ]},
    {"title":{"text":"Glycerol-3-Phosphate","offset":1},"width":69,"height":100,"data":{"name":"d"},
     "encoding":{"x":{"field":"n","type":"nominal","title":null,"scale":{"domain":["Ctrl","N0","N1-N2"]},"axis":{"labelFontSize":9.5}}},
     "layer":[
      {"mark":{"type":"bar","fill":"#fff","stroke":"#aaa"},"encoding":{"y":{"aggregate":"mean","field":"G","type":"quantitative","title":"Relative abundance","scale":{"domain":[0,20],"nice":false},"axis":{"values":[0,5,10,15,20],"labelOverlap":false}}}},
      {"mark":"circle","encoding":{"y":{"field":"G","type":"quantitative","title":"Relative abundance","axis":{"values":[0,5,10,15,20],"labelOverlap":false}},"xOffset":{"field":"i","type":"ordinal","scale":{"paddingOuter":30}},"color":{"condition":[{"test":"datum.n=='Ctrl'","value":"#1d2b86"},{"test":"datum.n=='N0'","value":"#c0272d"}],"value":"#1a1a1a"}}},
      {"mark":{"type":"errorbar","extent":"stderr","ticks":{"size":6},"color":"#1a1a1a"},"encoding":{"y":{"field":"G","type":"quantitative","title":"Relative abundance","axis":{"values":[0,5,10,15,20],"labelOverlap":false}}}},
      {"data":{"values":[{"a":"Ctrl","b":"N1-N2","y":21.8,"t":"***","c":"N0","k":1},{"a":"Ctrl","b":"N0","y":19.0,"t":"***","c":"Ctrl","k":0},{"a":"N0","b":"N1-N2","y":19.0,"t":"ns","c":"N0","k":0}]},
       "encoding":{"y":{"field":"y","type":"quantitative","title":"Relative abundance","axis":{"values":[0,5,10,15,20],"labelOverlap":false}}},
       "layer":[
        {"mark":"rule","encoding":{"x":{"field":"a","type":"nominal","title":null},"x2":{"field":"b"}}},
        {"transform":[{"filter":"datum.k==1"}],"mark":{"type":"text","baseline":"bottom","dy":-1},"encoding":{"x":{"field":"c","type":"nominal","title":null},"text":{"field":"t"}}},
        {"transform":[{"filter":"datum.k==0"}],"mark":{"type":"text","baseline":"bottom","dy":-1,"dx":3},"encoding":{"x":{"field":"c","type":"nominal","title":null,"bandPosition":1},"text":{"field":"t"}}}
       ]}
     ]}
   ]},
   {"title":{"text":"2−Hydroxyglutaric acid","offset":1},"width":69,"height":100,"data":{"name":"d"},
    "encoding":{"x":{"field":"n","type":"nominal","title":null,"scale":{"domain":["Ctrl","N0","N1-N2"]},"axis":{"labelFontSize":9.5}}},
    "layer":[
     {"mark":{"type":"bar","fill":"#fff","stroke":"#aaa"},"encoding":{"y":{"aggregate":"mean","field":"H","type":"quantitative","title":"Relative abundance","scale":{"domain":[0,4],"nice":false},"axis":{"values":[0,1,2,3,4],"labelOverlap":false}}}},
     {"mark":"circle","encoding":{"y":{"field":"H","type":"quantitative","title":"Relative abundance","axis":{"values":[0,1,2,3,4],"labelOverlap":false}},"xOffset":{"field":"i","type":"ordinal","scale":{"paddingOuter":30}},"color":{"condition":[{"test":"datum.n=='Ctrl'","value":"#1d2b86"},{"test":"datum.n=='N0'","value":"#c0272d"}],"value":"#1a1a1a"}}},
     {"mark":{"type":"errorbar","extent":"stderr","ticks":{"size":6},"color":"#1a1a1a"},"encoding":{"y":{"field":"H","type":"quantitative","title":"Relative abundance","axis":{"values":[0,1,2,3,4],"labelOverlap":false}}}},
     {"data":{"values":[{"a":"Ctrl","b":"N1-N2","y":4.35,"t":"***","c":"N0","k":1},{"a":"Ctrl","b":"N0","y":3.82,"t":"***","c":"Ctrl","k":0},{"a":"N0","b":"N1-N2","y":3.82,"t":"ns","c":"N0","k":0}]},
      "encoding":{"y":{"field":"y","type":"quantitative","title":"Relative abundance","axis":{"values":[0,1,2,3,4],"labelOverlap":false}}},
      "layer":[
       {"mark":"rule","encoding":{"x":{"field":"a","type":"nominal","title":null},"x2":{"field":"b"}}},
       {"transform":[{"filter":"datum.k==1"}],"mark":{"type":"text","baseline":"bottom","dy":-1},"encoding":{"x":{"field":"c","type":"nominal","title":null},"text":{"field":"t"}}},
       {"transform":[{"filter":"datum.k==0"}],"mark":{"type":"text","baseline":"bottom","dy":-1,"dx":3},"encoding":{"x":{"field":"c","type":"nominal","title":null,"bandPosition":1},"text":{"field":"t"}}}
      ]}
    ]}
  ]},
  {"title":{"text":"Isocitric acid","offset":1},"width":69,"height":100,"data":{"name":"d"},
   "encoding":{"x":{"field":"n","type":"nominal","title":null,"scale":{"domain":["Ctrl","N0","N1-N2"]},"axis":{"labelFontSize":9.5}}},
   "layer":[
    {"mark":{"type":"bar","fill":"#fff","stroke":"#aaa"},"encoding":{"y":{"aggregate":"mean","field":"I","type":"quantitative","title":"Relative abundance","scale":{"domain":[0,20],"nice":false},"axis":{"values":[0,5,10,15,20],"labelOverlap":false}}}},
    {"mark":"circle","encoding":{"y":{"field":"I","type":"quantitative","title":"Relative abundance","axis":{"values":[0,5,10,15,20],"labelOverlap":false}},"xOffset":{"field":"i","type":"ordinal","scale":{"paddingOuter":30}},"color":{"condition":[{"test":"datum.n=='Ctrl'","value":"#1d2b86"},{"test":"datum.n=='N0'","value":"#c0272d"}],"value":"#1a1a1a"}}},
    {"mark":{"type":"errorbar","extent":"stderr","ticks":{"size":6},"color":"#1a1a1a"},"encoding":{"y":{"field":"I","type":"quantitative","title":"Relative abundance","axis":{"values":[0,5,10,15,20],"labelOverlap":false}}}},
    {"data":{"values":[{"a":"Ctrl","b":"N1-N2","y":21.8,"t":"***","c":"N0","k":1},{"a":"Ctrl","b":"N0","y":19.0,"t":"***","c":"Ctrl","k":0},{"a":"N0","b":"N1-N2","y":19.0,"t":"ns","c":"N0","k":0}]},
     "encoding":{"y":{"field":"y","type":"quantitative","title":"Relative abundance","axis":{"values":[0,5,10,15,20],"labelOverlap":false}}},
     "layer":[
      {"mark":"rule","encoding":{"x":{"field":"a","type":"nominal","title":null},"x2":{"field":"b"}}},
      {"transform":[{"filter":"datum.k==1"}],"mark":{"type":"text","baseline":"bottom","dy":-1},"encoding":{"x":{"field":"c","type":"nominal","title":null},"text":{"field":"t"}}},
      {"transform":[{"filter":"datum.k==0"}],"mark":{"type":"text","baseline":"bottom","dy":-1,"dx":3},"encoding":{"x":{"field":"c","type":"nominal","title":null,"bandPosition":1},"text":{"field":"t"}}}
     ]}
   ]}
 ]},
 {"title":{"text":"Citric acid","offset":0},"width":69,"height":100,"data":{"name":"d"},
  "encoding":{"x":{"field":"n","type":"nominal","title":null,"scale":{"domain":["Ctrl","N0","N1-N2"]},"axis":{"labelFontSize":9.5}}},
  "layer":[
   {"mark":{"type":"bar","fill":"#fff","stroke":"#aaa"},"encoding":{"y":{"aggregate":"mean","field":"C","type":"quantitative","title":"Relative abundance","scale":{"domain":[0,25],"nice":false},"axis":{"values":[0,5,10,15,20,25],"labelOverlap":false}}}},
   {"mark":"circle","encoding":{"y":{"field":"C","type":"quantitative","title":"Relative abundance","axis":{"values":[0,5,10,15,20,25],"labelOverlap":false}},"xOffset":{"field":"i","type":"ordinal","scale":{"paddingOuter":30}},"color":{"condition":[{"test":"datum.n=='Ctrl'","value":"#1d2b86"},{"test":"datum.n=='N0'","value":"#c0272d"}],"value":"#1a1a1a"}}},
   {"mark":{"type":"errorbar","extent":"stderr","ticks":{"size":6},"color":"#1a1a1a"},"encoding":{"y":{"field":"C","type":"quantitative","title":"Relative abundance","axis":{"values":[0,5,10,15,20,25],"labelOverlap":false}}}},
   {"data":{"values":[{"a":"Ctrl","b":"N1-N2","y":27.8,"t":"***","c":"N0","k":1},{"a":"Ctrl","b":"N0","y":25.8,"t":"***","c":"Ctrl","k":0},{"a":"N0","b":"N1-N2","y":25.8,"t":"ns","c":"N0","k":0}]},
    "encoding":{"y":{"field":"y","type":"quantitative","title":"Relative abundance","axis":{"values":[0,5,10,15,20,25],"labelOverlap":false}}},
    "layer":[
     {"mark":"rule","encoding":{"x":{"field":"a","type":"nominal","title":null},"x2":{"field":"b"}}},
     {"transform":[{"filter":"datum.k==1"}],"mark":{"type":"text","baseline":"bottom","dy":-1},"encoding":{"x":{"field":"c","type":"nominal","title":null},"text":{"field":"t"}}},
     {"transform":[{"filter":"datum.k==0"}],"mark":{"type":"text","baseline":"bottom","dy":-1,"dx":3},"encoding":{"x":{"field":"c","type":"nominal","title":null,"bandPosition":1},"text":{"field":"t"}}}
    ]}
  ]}
]},
{"title":{"text":"Distant metastasis","offset":6,"anchor":"middle"},"spacing":34,"resolve":{"scale":{"xOffset":"independent"}},"hconcat":[
 {"spacing":17,"resolve":{"scale":{"xOffset":"independent"}},"hconcat":[
  {"spacing":15,"resolve":{"scale":{"xOffset":"independent"}},"hconcat":[
   {"spacing":49,"resolve":{"scale":{"xOffset":"independent"}},"hconcat":[
    {"spacing":3,"resolve":{"scale":{"xOffset":"independent"}},"hconcat":[
     {"width":1,"height":87,"title":{"text":"(D)","anchor":"start","offset":29,"fontWeight":"bold","fontSize":13},"data":{"values":[]},"mark":"text","encoding":{}},
     {"title":{"text":"Lactose","offset":16},"width":69,"height":87,"data":{"name":"d"},
      "encoding":{"x":{"field":"m","type":"nominal","title":null,"scale":{"domain":["Ctrl","M0","M1"]}}},
      "layer":[
       {"mark":{"type":"bar","fill":"#fff","stroke":"#aaa"},"encoding":{"y":{"aggregate":"mean","field":"L","type":"quantitative","title":"Relative abundance","scale":{"domain":[0,15],"nice":false},"axis":{"values":[0,5,10,15],"labelOverlap":false}}}},
       {"mark":"circle","encoding":{"y":{"field":"L","type":"quantitative","title":"Relative abundance","axis":{"values":[0,5,10,15],"labelOverlap":false}},"xOffset":{"field":"i","type":"ordinal","scale":{"paddingOuter":30}},"color":{"condition":[{"test":"datum.m=='Ctrl'","value":"#1d2b86"},{"test":"datum.m=='M0'","value":"#c0272d"}],"value":"#1a1a1a"}}},
       {"mark":{"type":"errorbar","extent":"stderr","ticks":{"size":6},"color":"#1a1a1a"},"encoding":{"y":{"field":"L","type":"quantitative","title":"Relative abundance","axis":{"values":[0,5,10,15],"labelOverlap":false}}}},
       {"data":{"values":[{"a":"Ctrl","b":"M1","y":16.4,"t":"**","c":"M0","k":1},{"a":"Ctrl","b":"M0","y":14.4,"t":"**","c":"Ctrl","k":0},{"a":"M0","b":"M1","y":14.4,"t":"ns","c":"M0","k":0}]},
        "encoding":{"y":{"field":"y","type":"quantitative","title":"Relative abundance","axis":{"values":[0,5,10,15],"labelOverlap":false}}},
        "layer":[
         {"mark":"rule","encoding":{"x":{"field":"a","type":"nominal","title":null},"x2":{"field":"b"}}},
         {"transform":[{"filter":"datum.k==1"}],"mark":{"type":"text","baseline":"bottom","dy":-1},"encoding":{"x":{"field":"c","type":"nominal","title":null},"text":{"field":"t"}}},
         {"transform":[{"filter":"datum.k==0"}],"mark":{"type":"text","baseline":"bottom","dy":-1,"dx":3},"encoding":{"x":{"field":"c","type":"nominal","title":null,"bandPosition":1},"text":{"field":"t"}}}
        ]}
      ]}
    ]},
    {"title":{"text":"Glycerol-3-Phosphate","offset":16},"width":69,"height":87,"data":{"name":"d"},
     "encoding":{"x":{"field":"m","type":"nominal","title":null,"scale":{"domain":["Ctrl","M0","M1"]}}},
     "layer":[
      {"mark":{"type":"bar","fill":"#fff","stroke":"#aaa"},"encoding":{"y":{"aggregate":"mean","field":"G","type":"quantitative","title":"Relative abundance","scale":{"domain":[0,20],"nice":false},"axis":{"values":[0,5,10,15,20],"labelOverlap":false}}}},
      {"mark":"circle","encoding":{"y":{"field":"G","type":"quantitative","title":"Relative abundance","axis":{"values":[0,5,10,15,20],"labelOverlap":false}},"xOffset":{"field":"i","type":"ordinal","scale":{"paddingOuter":30}},"color":{"condition":[{"test":"datum.m=='Ctrl'","value":"#1d2b86"},{"test":"datum.m=='M0'","value":"#c0272d"}],"value":"#1a1a1a"}}},
      {"mark":{"type":"errorbar","extent":"stderr","ticks":{"size":6},"color":"#1a1a1a"},"encoding":{"y":{"field":"G","type":"quantitative","title":"Relative abundance","axis":{"values":[0,5,10,15,20],"labelOverlap":false}}}},
      {"data":{"values":[{"a":"Ctrl","b":"M1","y":21.8,"t":"***","c":"M0","k":1},{"a":"Ctrl","b":"M0","y":19.0,"t":"***","c":"Ctrl","k":0},{"a":"M0","b":"M1","y":19.0,"t":"ns","c":"M0","k":0}]},
       "encoding":{"y":{"field":"y","type":"quantitative","title":"Relative abundance","axis":{"values":[0,5,10,15,20],"labelOverlap":false}}},
       "layer":[
        {"mark":"rule","encoding":{"x":{"field":"a","type":"nominal","title":null},"x2":{"field":"b"}}},
        {"transform":[{"filter":"datum.k==1"}],"mark":{"type":"text","baseline":"bottom","dy":-1},"encoding":{"x":{"field":"c","type":"nominal","title":null},"text":{"field":"t"}}},
        {"transform":[{"filter":"datum.k==0"}],"mark":{"type":"text","baseline":"bottom","dy":-1,"dx":3},"encoding":{"x":{"field":"c","type":"nominal","title":null,"bandPosition":1},"text":{"field":"t"}}}
       ]}
     ]}
   ]},
   {"title":{"text":"2−Hydroxyglutaric acid","offset":16},"width":69,"height":87,"data":{"name":"d"},
    "encoding":{"x":{"field":"m","type":"nominal","title":null,"scale":{"domain":["Ctrl","M0","M1"]}}},
    "layer":[
     {"mark":{"type":"bar","fill":"#fff","stroke":"#aaa"},"encoding":{"y":{"aggregate":"mean","field":"H","type":"quantitative","title":"Relative abundance","scale":{"domain":[0,4],"nice":false},"axis":{"values":[0,1,2,3,4],"labelOverlap":false}}}},
     {"mark":"circle","encoding":{"y":{"field":"H","type":"quantitative","title":"Relative abundance","axis":{"values":[0,1,2,3,4],"labelOverlap":false}},"xOffset":{"field":"i","type":"ordinal","scale":{"paddingOuter":30}},"color":{"condition":[{"test":"datum.m=='Ctrl'","value":"#1d2b86"},{"test":"datum.m=='M0'","value":"#c0272d"}],"value":"#1a1a1a"}}},
     {"mark":{"type":"errorbar","extent":"stderr","ticks":{"size":6},"color":"#1a1a1a"},"encoding":{"y":{"field":"H","type":"quantitative","title":"Relative abundance","axis":{"values":[0,1,2,3,4],"labelOverlap":false}}}},
     {"data":{"values":[{"a":"Ctrl","b":"M1","y":4.35,"t":"***","c":"M0","k":1},{"a":"Ctrl","b":"M0","y":3.82,"t":"***","c":"Ctrl","k":0},{"a":"M0","b":"M1","y":3.82,"t":"*","c":"M0","k":0}]},
      "encoding":{"y":{"field":"y","type":"quantitative","title":"Relative abundance","axis":{"values":[0,1,2,3,4],"labelOverlap":false}}},
      "layer":[
       {"mark":"rule","encoding":{"x":{"field":"a","type":"nominal","title":null},"x2":{"field":"b"}}},
       {"transform":[{"filter":"datum.k==1"}],"mark":{"type":"text","baseline":"bottom","dy":-1},"encoding":{"x":{"field":"c","type":"nominal","title":null},"text":{"field":"t"}}},
       {"transform":[{"filter":"datum.k==0"}],"mark":{"type":"text","baseline":"bottom","dy":-1,"dx":3},"encoding":{"x":{"field":"c","type":"nominal","title":null,"bandPosition":1},"text":{"field":"t"}}}
      ]}
    ]}
  ]},
  {"title":{"text":"Isocitric acid","offset":16},"width":69,"height":87,"data":{"name":"d"},
   "encoding":{"x":{"field":"m","type":"nominal","title":null,"scale":{"domain":["Ctrl","M0","M1"]}}},
   "layer":[
    {"mark":{"type":"bar","fill":"#fff","stroke":"#aaa"},"encoding":{"y":{"aggregate":"mean","field":"I","type":"quantitative","title":"Relative abundance","scale":{"domain":[0,20],"nice":false},"axis":{"values":[0,5,10,15,20],"labelOverlap":false}}}},
    {"mark":"circle","encoding":{"y":{"field":"I","type":"quantitative","title":"Relative abundance","axis":{"values":[0,5,10,15,20],"labelOverlap":false}},"xOffset":{"field":"i","type":"ordinal","scale":{"paddingOuter":30}},"color":{"condition":[{"test":"datum.m=='Ctrl'","value":"#1d2b86"},{"test":"datum.m=='M0'","value":"#c0272d"}],"value":"#1a1a1a"}}},
    {"mark":{"type":"errorbar","extent":"stderr","ticks":{"size":6},"color":"#1a1a1a"},"encoding":{"y":{"field":"I","type":"quantitative","title":"Relative abundance","axis":{"values":[0,5,10,15,20],"labelOverlap":false}}}},
    {"data":{"values":[{"a":"Ctrl","b":"M1","y":21.8,"t":"***","c":"M0","k":1},{"a":"Ctrl","b":"M0","y":19.0,"t":"***","c":"Ctrl","k":0},{"a":"M0","b":"M1","y":19.0,"t":"*","c":"M0","k":0}]},
     "encoding":{"y":{"field":"y","type":"quantitative","title":"Relative abundance","axis":{"values":[0,5,10,15,20],"labelOverlap":false}}},
     "layer":[
      {"mark":"rule","encoding":{"x":{"field":"a","type":"nominal","title":null},"x2":{"field":"b"}}},
      {"transform":[{"filter":"datum.k==1"}],"mark":{"type":"text","baseline":"bottom","dy":-1},"encoding":{"x":{"field":"c","type":"nominal","title":null},"text":{"field":"t"}}},
      {"transform":[{"filter":"datum.k==0"}],"mark":{"type":"text","baseline":"bottom","dy":-1,"dx":3},"encoding":{"x":{"field":"c","type":"nominal","title":null,"bandPosition":1},"text":{"field":"t"}}}
     ]}
   ]}
 ]},
 {"title":{"text":"Citric acid","offset":11},"width":69,"height":87,"data":{"name":"d"},
  "encoding":{"x":{"field":"m","type":"nominal","title":null,"scale":{"domain":["Ctrl","M0","M1"]}}},
  "layer":[
   {"mark":{"type":"bar","fill":"#fff","stroke":"#aaa"},"encoding":{"y":{"aggregate":"mean","field":"C","type":"quantitative","title":"Relative abundance","scale":{"domain":[0,25],"nice":false},"axis":{"values":[0,5,10,15,20,25],"labelOverlap":false}}}},
   {"mark":"circle","encoding":{"y":{"field":"C","type":"quantitative","title":"Relative abundance","axis":{"values":[0,5,10,15,20,25],"labelOverlap":false}},"xOffset":{"field":"i","type":"ordinal","scale":{"paddingOuter":30}},"color":{"condition":[{"test":"datum.m=='Ctrl'","value":"#1d2b86"},{"test":"datum.m=='M0'","value":"#c0272d"}],"value":"#1a1a1a"}}},
   {"mark":{"type":"errorbar","extent":"stderr","ticks":{"size":6},"color":"#1a1a1a"},"encoding":{"y":{"field":"C","type":"quantitative","title":"Relative abundance","axis":{"values":[0,5,10,15,20,25],"labelOverlap":false}}}},
   {"data":{"values":[{"a":"Ctrl","b":"M1","y":27.8,"t":"***","c":"M0","k":1},{"a":"Ctrl","b":"M0","y":25.8,"t":"***","c":"Ctrl","k":0},{"a":"M0","b":"M1","y":25.8,"t":"*","c":"M0","k":0}]},
    "encoding":{"y":{"field":"y","type":"quantitative","title":"Relative abundance","axis":{"values":[0,5,10,15,20,25],"labelOverlap":false}}},
    "layer":[
     {"mark":"rule","encoding":{"x":{"field":"a","type":"nominal","title":null},"x2":{"field":"b"}}},
     {"transform":[{"filter":"datum.k==1"}],"mark":{"type":"text","baseline":"bottom","dy":-1},"encoding":{"x":{"field":"c","type":"nominal","title":null},"text":{"field":"t"}}},
     {"transform":[{"filter":"datum.k==0"}],"mark":{"type":"text","baseline":"bottom","dy":-1,"dx":3},"encoding":{"x":{"field":"c","type":"nominal","title":null,"bandPosition":1},"text":{"field":"t"}}}
    ]}
  ]}
]}
]}
],
"config":{
 "font":"Liberation Sans",
 "view":{"stroke":null},
 "title":{"fontSize":12,"fontWeight":"normal","color":"#111"},
 "axis":{"grid":false,"domainColor":"#222","tickColor":"#222","labelColor":"#111","titleColor":"#111","labelFontSize":10.5,"titleFontSize":10.5,"titleFontWeight":"normal","tickSize":4,"labelPadding":2},
 "axisX":{"labelAngle":0,"labelOverlap":false,"tickSize":3},
 "axisY":{"titlePadding":3,"labelOverlap":false},
 "scale":{"bandPaddingInner":0.35,"bandPaddingOuter":0.4},
 "circle":{"size":10,"opacity":1},
 "rule":{"color":"#333"},
 "text":{"fontSize":9.5,"color":"#111"}
}
}
